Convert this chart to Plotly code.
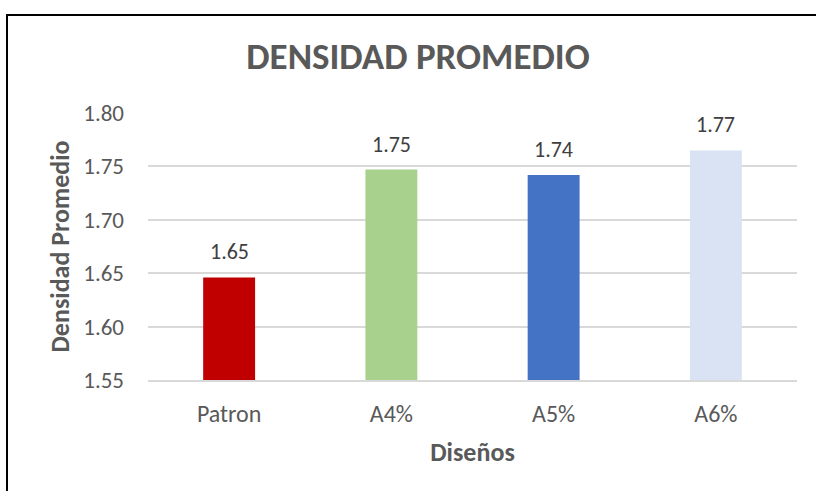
import plotly.graph_objects as go

# Data
disenos = ["Patron", "A4%", "A5%", "A6%"]
densidad = [1.646, 1.747, 1.742, 1.765]
etiquetas = ["1.65", "1.75", "1.74", "1.77"]
colores = ["#C00000", "#A9D18E", "#4472C4", "#DAE3F3"]
y_ticks = [1.55, 1.60, 1.65, 1.70, 1.75, 1.80]
Y_MIN, Y_MAX = 1.55, 1.80

FONT = "Carlito, Lato, sans-serif"
GRAY = "#595959"

fig = go.Figure(go.Bar(
    x=disenos,
    y=[v - Y_MIN for v in densidad],
    base=Y_MIN,
    marker=dict(color=colores, line=dict(width=0)),
    width=0.32,
    hoverinfo="skip",
))

# value labels sitting well above each bar, Excel style
for cat, val, lab in zip(disenos, densidad, etiquetas):
    fig.add_annotation(
        x=cat, y=val, text=lab,
        showarrow=False, yanchor="bottom", yshift=10,
        font=dict(family=FONT, size=22, color="#404040"),
    )

fig.update_layout(
    width=816,
    height=491,
    margin=dict(l=148, r=19, t=113, b=111),
    paper_bgcolor="white",
    plot_bgcolor="white",
    showlegend=False,
    title=dict(
        text="<b>DENSIDAD PROMEDIO</b>",
        x=418 / 816,
        xanchor="center",
        y=1 - 56 / 491,
        yanchor="middle",
        font=dict(family=FONT, size=37, color=GRAY),
    ),
    font=dict(family=FONT, color=GRAY),
)

fig.update_xaxes(
    title=dict(text="<b>Diseños</b>", font=dict(size=26, color=GRAY), standoff=16),
    tickfont=dict(size=24, color=GRAY),
    ticklabelstandoff=11,
    showline=True,
    linecolor="#D9D9D9",
    linewidth=1.5,
    ticks="",
)

fig.update_yaxes(
    range=[Y_MIN, Y_MAX],
    tickvals=y_ticks,
    tickformat=".2f",
    tickfont=dict(size=23, color=GRAY),
    ticklabelstandoff=23,
    showgrid=True,
    gridcolor="#D9D9D9",
    gridwidth=1.5,
    zeroline=False,
    title=dict(text="<b>Densidad Promedio</b>", font=dict(size=26, color=GRAY), standoff=6),
)

# chart frame: black border running off the right and bottom edges
fig.add_shape(
    type="rect",
    xref="paper", yref="paper",
    x0=(7 - 148) / 649, x1=(830 - 148) / 649,
    y0=(380 - 520) / 267, y1=(380 - 15) / 267,
    line=dict(color="black", width=2),
    layer="below",
)

fig.write_html(
    "out.html",
    config={"displayModeBar": False},
    post_script="document.body.style.margin='0';",
)
